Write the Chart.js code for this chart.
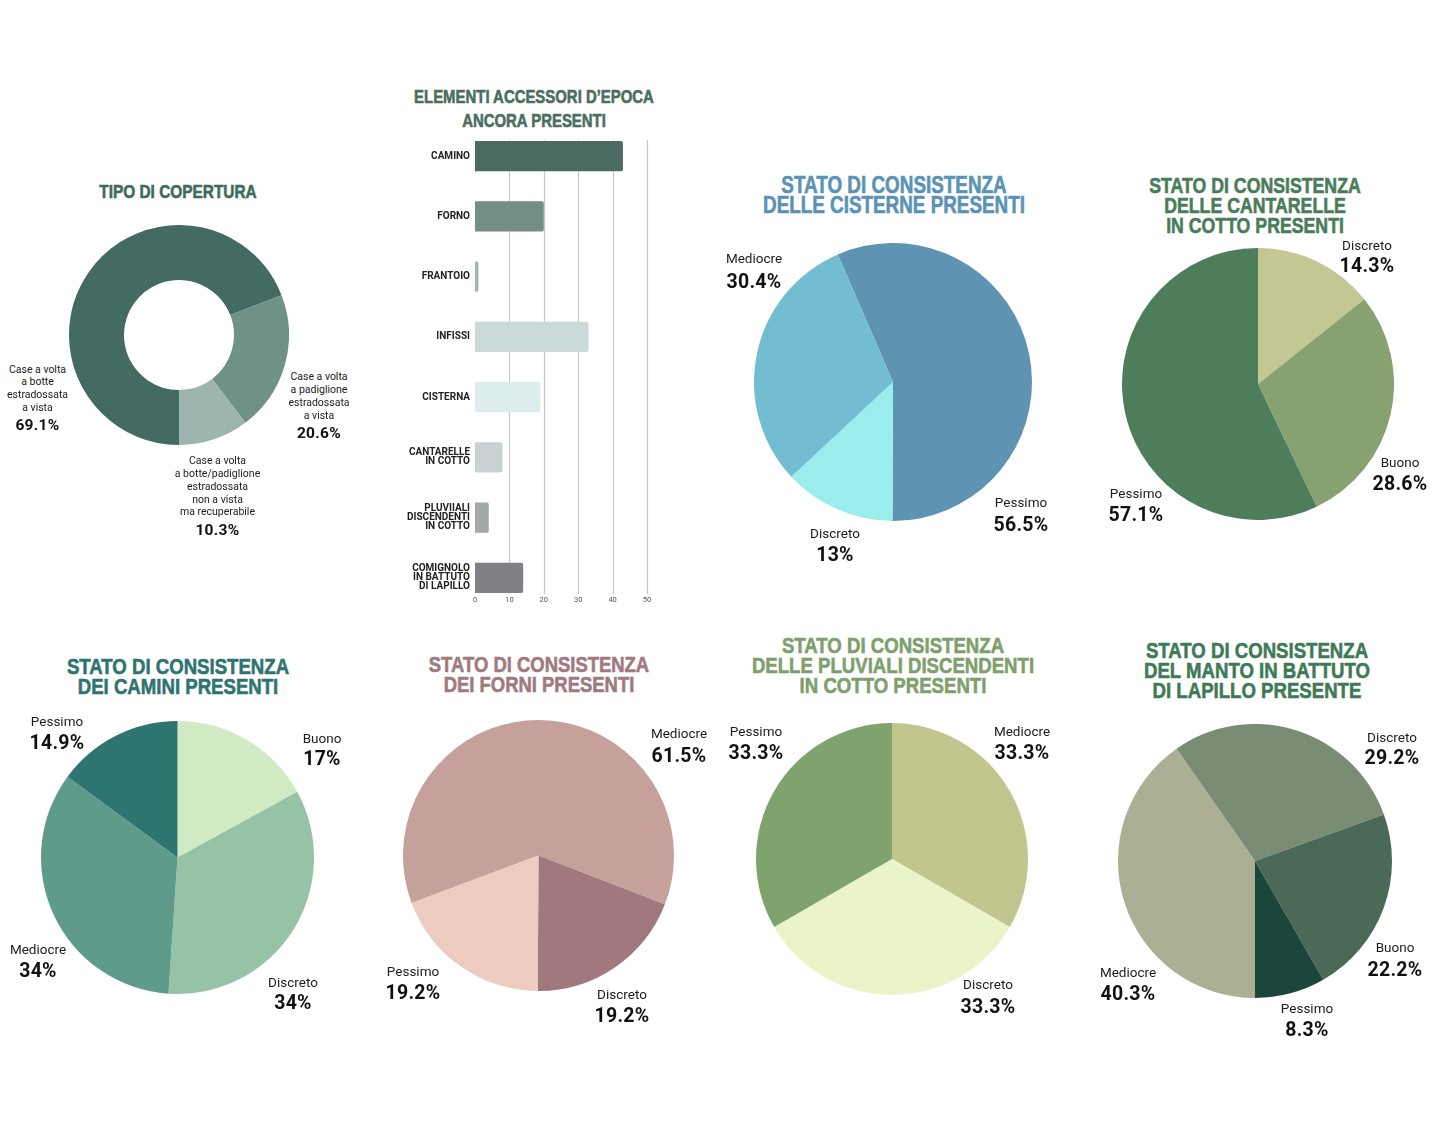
<!DOCTYPE html>
<html><head><meta charset="utf-8">
<script src="https://cdn.jsdelivr.net/npm/chart.js@4.4.0/dist/chart.umd.min.js"></script>
<style>
html,body{margin:0;padding:0;background:#fff;}
body{width:1432px;height:1125px;position:relative;overflow:hidden;}
.box{position:absolute;}
.t{position:absolute;white-space:nowrap;}
</style></head><body>
<script>
// ---------------- DATA ----------------
const coperturaLabels = [
  ['Case a volta','a botte','estradossata','a vista'],
  ['Case a volta','a padiglione','estradossata','a vista'],
  ['Case a volta','a botte/padiglione','estradossata','non a vista','ma recuperabile']
];
const coperturaValues = [69.1, 20.6, 10.3];

const elementiLabels = [['CAMINO'],['FORNO'],['FRANTOIO'],['INFISSI'],['CISTERNA'],['CANTARELLE','IN COTTO'],['PLUVIIALI','DISCENDENTI','IN COTTO'],['COMIGNOLO','IN BATTUTO','DI LAPILLO']];
const elementiValues = [43, 20, 1, 33, 19, 8, 4, 14];
const elementiTicks = [0, 10, 20, 30, 40, 50];

const cisterneLabels = ['Pessimo','Discreto','Mediocre'];
const cisterneValues = [56.5, 13, 30.4];

const cantarelleLabels = ['Discreto','Buono','Pessimo'];
const cantarelleValues = [14.3, 28.6, 57.1];

const caminiLabels = ['Buono','Discreto','Mediocre','Pessimo'];
const caminiValues = [17, 34, 34, 14.9];

const forniLabels = ['Mediocre','Discreto','Pessimo'];
const forniValues = [61.5, 19.2, 19.2];

const pluvialiLabels = ['Mediocre','Discreto','Pessimo'];
const pluvialiValues = [33.3, 33.3, 33.3];

const lapilloLabels = ['Mediocre','Discreto','Buono','Pessimo'];
const lapilloValues = [40.3, 29.2, 22.2, 8.3];

// ---------------- HELPERS ----------------
Chart.defaults.font.family = 'Roboto';
const TF = "'Liberation Sans', Arial, sans-serif";

function put(text, cx, cy, size, weight, color, family, ls) {
  const d = document.createElement('div');
  d.className = 't';
  d.textContent = text;
  d.style.fontFamily = family;
  d.style.fontSize = size + 'px';
  d.style.fontWeight = weight;
  d.style.lineHeight = size + 'px';
  d.style.color = color;
  if (ls) d.style.letterSpacing = ls + 'px';
  d.style.top = (cy - size / 2) + 'px';
  d.style.left = cx + 'px';
  d.style.transform = 'translateX(-50%)';
  document.body.appendChild(d);
}
// condensed heavy titles: Liberation Sans Bold squeezed horizontally
function title(lines, cx, capTops, size, color) {
  lines.forEach((l, i) => {
    const d = document.createElement('div');
    d.className = 't';
    d.textContent = l;
    d.style.fontFamily = TF;
    d.style.fontWeight = 'bold';
    d.style.fontSize = size + 'px';
    d.style.lineHeight = size + 'px';
    d.style.color = color;
    d.style.webkitTextStroke = '0.6px ' + color;
    d.style.top = (capTops[i] - 0.13 * size) + 'px';
    d.style.left = cx + 'px';
    d.style.transform = 'translateX(-50%) scaleX(0.82)';
    document.body.appendChild(d);
  });
}
function fmt(v) { return String(v) + '%'; }

function pie(cx, cy, r, labels, values, colors, rotation, cutout) {
  const div = document.createElement('div');
  div.className = 'box';
  div.style.left = (cx - r) + 'px';
  div.style.top = (cy - r) + 'px';
  div.style.width = (2 * r) + 'px';
  div.style.height = (2 * r) + 'px';
  const c = document.createElement('canvas');
  c.width = 2 * r; c.height = 2 * r;
  c.style.width = (2 * r) + 'px'; c.style.height = (2 * r) + 'px';
  div.appendChild(c);
  document.body.appendChild(div);
  new Chart(c, {
    type: cutout ? 'doughnut' : 'pie',
    data: { labels: labels.map(l => Array.isArray(l) ? l.join(' ') : l),
      datasets: [{ data: values, backgroundColor: colors, borderWidth: 0, hoverOffset: 0 }] },
    options: {
      responsive: false, animation: false, rotation: rotation,
      cutout: cutout || 0,
      layout: { padding: 0 },
      plugins: { legend: { display: false }, tooltip: { enabled: false } }
    }
  });
}
function pieLabels(labels, values, pos) {
  labels.forEach((l, i) => {
    const p = pos[i];
    put(l, p[0], p[1], 13.5, 'normal', '#1c1c1c', 'Roboto');
    put(fmt(values[i]), p[0], p[2], 19.5, 'bold', '#111', 'Roboto', 0.3);
  });
}

// ---------------- TIPO DI COPERTURA ----------------
title(['TIPO DI COPERTURA'], 177.5, [185], 18.8, '#3f6b5c');
pie(179, 334.5, 110, coperturaLabels, coperturaValues, ['#446b61', '#6f9188', '#9db5ae'], 180, '50%');
const copPos = [
  [37.5, [370, 382, 395, 408], 426],
  [319, [377, 390, 403, 416], 434],
  [217.5, [461, 474, 487, 500, 512], 531]
];
coperturaLabels.forEach((ls, i) => {
  const p = copPos[i];
  ls.forEach((l, j) => put(l, p[0], p[1][j], 10.5, 'normal', '#1c1c1c', 'Roboto'));
  put(fmt(coperturaValues[i]), p[0], p[2], 15.5, 'bold', '#111', 'Roboto', 0.3);
});

// ---------------- ELEMENTI (bar) ----------------
title(["ELEMENTI ACCESSORI D\u2019EPOCA", 'ANCORA PRESENTI'], 534, [90, 114], 18.2, '#4b6e5f');
(function () {
  const div = document.createElement('div');
  div.className = 'box';
  div.style.left = '395px'; div.style.top = '126px';
  const c = document.createElement('canvas');
  c.width = 265; c.height = 482;
  c.style.width = '265px'; c.style.height = '482px';
  div.appendChild(c);
  document.body.appendChild(div);
  const gridPlugin = {
    id: 'partialGrid',
    beforeDatasetsDraw(chart) {
      const { ctx, chartArea: a, scales: { x } } = chart;
      ctx.save();
      ctx.strokeStyle = '#c6c6c6';
      ctx.lineWidth = 1.2;
      x.ticks.forEach(t => {
        if (t.value === 0) return;
        const px = Math.round(x.getPixelForValue(t.value)) + 0.5;
        ctx.beginPath();
        ctx.moveTo(px, a.top + 14);
        ctx.lineTo(px, a.bottom - 14);
        ctx.stroke();
      });
      ctx.restore();
    },
    afterDraw(chart) {
      const { ctx, chartArea: a, scales: { x } } = chart;
      ctx.save();
      ctx.fillStyle = '#555';
      ctx.font = '7.5px Roboto';
      ctx.textAlign = 'center';
      ctx.textBaseline = 'middle';
      x.ticks.forEach(t => {
        ctx.fillText(String(t.value), x.getPixelForValue(t.value), a.bottom - 8);
      });
      ctx.restore();
    }
  };
  new Chart(c, {
    type: 'bar',
    data: { labels: elementiLabels,
      datasets: [{ data: elementiValues,
        backgroundColor: ['#4a6a62', '#738f88', '#a4b4ae', '#c9d9d7', '#ddeced', '#c9d1d2', '#a3a8ab', '#7f8186'],
        borderRadius: 2, borderSkipped: 'start', categoryPercentage: 1, barPercentage: 0.5 }] },
    options: {
      indexAxis: 'y', responsive: false, animation: false,
      layout: { padding: { left: 0, right: 13, top: 0, bottom: 0 } },
      plugins: { legend: { display: false }, tooltip: { enabled: false } },
      scales: {
        x: { min: elementiTicks[0], max: elementiTicks[elementiTicks.length - 1],
          afterBuildTicks(s) { s.ticks = elementiTicks.map(v => ({ value: v })); },
          ticks: { display: false },
          grid: { display: false, drawTicks: false }, border: { display: false },
          afterFit(s) { s.height = 0; s.paddingLeft = 0; s.paddingRight = 0; } },
        y: { ticks: { padding: 5, font: { size: 10, weight: 'bold', lineHeight: 0.9 }, color: '#222' },
          grid: { display: false, drawTicks: false }, border: { display: false },
          afterFit(s) { s.width = 80; s.paddingTop = 0; s.paddingBottom = 0; } }
      }
    },
    plugins: [gridPlugin]
  });
})();

// ---------------- CISTERNE ----------------
title(['STATO DI CONSISTENZA', 'DELLE CISTERNE PRESENTI'], 893.5, [177, 197], 23, '#5b93b4');
pie(893, 382, 139, cisterneLabels, cisterneValues, ['#5e93b2', '#9beced', '#73bdd3'], -23.4);
pieLabels(cisterneLabels, cisterneValues, [[1021, 503, 525], [835, 534, 555], [754, 259, 282]]);

// ---------------- CANTARELLE ----------------
title(['STATO DI CONSISTENZA', 'DELLE CANTARELLE', 'IN COTTO PRESENTI'], 1255, [178, 198, 218], 21.6, '#4b7c5a');
pie(1258, 384, 136, cantarelleLabels, cantarelleValues, ['#c2c793', '#87a270', '#4e7d5b'], 0);
pieLabels(cantarelleLabels, cantarelleValues, [[1367, 246, 266], [1400, 463, 484], [1136, 494, 515]]);

// ---------------- CAMINI ----------------
title(['STATO DI CONSISTENZA', 'DEI CAMINI PRESENTI'], 177.5, [658, 678], 22.7, '#2f7470');
pie(177.5, 857, 136.5, caminiLabels, caminiValues, ['#d0eac3', '#96c2a5', '#5e9b8b', '#2e7470'], 0);
pieLabels(caminiLabels, caminiValues, [[322, 739, 759], [293, 983, 1003], [38, 950, 971], [57, 721.5, 743]]);

// ---------------- FORNI ----------------
title(['STATO DI CONSISTENZA', 'DEI FORNI PRESENTI'], 538.5, [657, 677], 22.5, '#a07a80');
pie(538.5, 855, 135.5, forniLabels, forniValues, ['#c6a19b', '#a0787d', '#edcbbf'], -110.5);
pieLabels(forniLabels, forniValues, [[679, 734, 756], [622, 995, 1016], [413, 972, 993]]);

// ---------------- PLUVIALI ----------------
title(['STATO DI CONSISTENZA', 'DELLE PLUVIALI DISCENDENTI', 'IN COTTO PRESENTI'], 892.5, [637, 657, 677], 22.7, '#7ea06c');
pie(892, 859, 136, pluvialiLabels, pluvialiValues, ['#c1c68e', '#ebf3c8', '#7ea36d'], 0);
pieLabels(pluvialiLabels, pluvialiValues, [[1022, 732, 753], [988, 985, 1007], [756, 732, 753]]);

// ---------------- LAPILLO ----------------
title(['STATO DI CONSISTENZA', 'DEL MANTO IN BATTUTO', 'DI LAPILLO PRESENTE'], 1257, [642, 662, 682], 22.7, '#3f7a58');
pie(1254.5, 861, 137, lapilloLabels, lapilloValues, ['#adaf95', '#7a8c73', '#4a6957', '#1c453c'], 180);
pieLabels(lapilloLabels, lapilloValues, [[1128, 973, 994], [1392, 737.5, 758], [1395, 948, 970], [1307, 1009, 1030]]);
</script>
</body></html>
